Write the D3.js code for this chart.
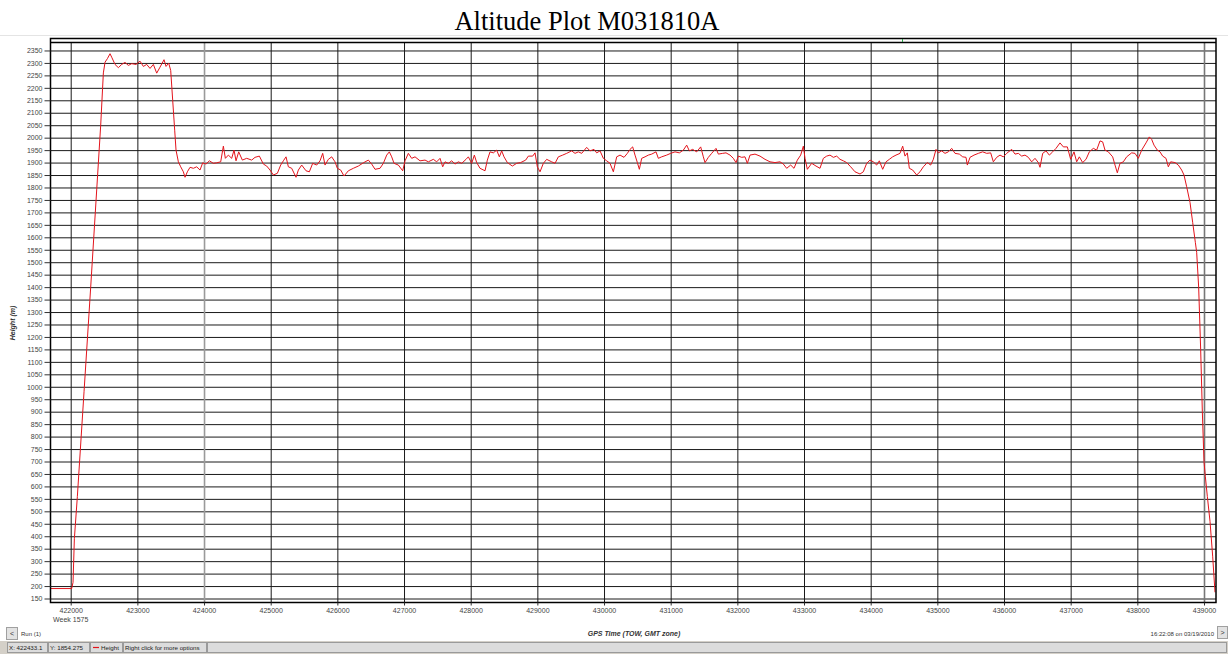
<!DOCTYPE html>
<html>
<head>
<meta charset="utf-8">
<script src="https://cdn.jsdelivr.net/npm/d3@7"></script>
<style>
  html, body { margin: 0; padding: 0; background: #fff; }
  svg { display: block; }
  text { font-family: "Liberation Sans", Arial, sans-serif; }
</style>
</head>
<body>
<svg id="chart" width="1228" height="654"></svg>
<script>
// ---------------- DATA ----------------
const chartTitle = "Altitude Plot M031810A";
const yLabel = "Height (m)";
const xLabel = "GPS Time (TOW, GMT zone)";
const weekLabel = "Week 1575";
const runLabel = "Run (1)";
const stampLabel = "16:22:08 on 03/19/2010";
const statusX = "X: 422433.1";
const statusY = "Y: 1854.275";
const seriesName = "Height";
const statusHint = "Right click for more options";

const xTicks = [422000, 423000, 424000, 425000, 426000, 427000, 428000, 429000, 430000,
  431000, 432000, 433000, 434000, 435000, 436000, 437000, 438000, 439000];
const yTicks = d3.range(150, 2351, 50);

// GPS time of week (s)
const gpsTime = [
  421697, 422015, 422035, 422055, 422100, 422200, 422300, 422390, 422450, 422490,
  422515, 422550, 422590, 422615, 422665, 422715, 422765, 422815, 422865, 422915,
  422980, 423040, 423090, 423140, 423190, 423240, 423290, 423340, 423400, 423430,
  423470, 423500, 423530, 423560, 423580, 423615, 423650, 423690, 423715, 423750,
  423790, 423840, 423890, 423940, 423980, 424030, 424080, 424140, 424190, 424250,
  424290, 424320, 424365, 424415, 424450, 424480, 424520, 424575, 424640, 424715,
  424765, 424830, 424890, 424940, 424990, 425040, 425100, 425150, 425190, 425230,
  425265, 425315, 425380, 425415, 425465, 425530, 425580, 425630, 425690, 425740,
  425780, 425815, 425865, 425915, 425965, 426000, 426050, 426100, 426165, 426240,
  426315, 426390, 426465, 426515, 426565, 426640, 426690, 426740, 426780, 426815,
  426850, 426915, 426980, 427015, 427065, 427115, 427165, 427240, 427315, 427365,
  427440, 427490,
  427540, 427580, 427615, 427665, 427715, 427765, 427815, 427865, 427930, 427965,
  428015, 428055, 428090, 428140, 428215, 428250, 428290, 428340, 428390, 428430,
  428465, 428500, 428550, 428625, 428690, 428750, 428825, 428865, 428930, 428965,
  429000, 429040, 429090, 429140, 429215, 429265, 429315, 429380, 429440, 429515,
  429565, 429615, 429665, 429740, 429790, 429850, 429890, 429940, 429990, 430040,
  430090, 430140, 430190, 430240, 430300, 430350, 430390, 430430, 430465, 430500,
  430530, 430565, 430615, 430665, 430715, 430780, 430815, 430865, 430940, 431000,
  431065, 431130, 431190, 431240, 431280, 431330, 431390, 431450, 431490, 431515,
  431565, 431615, 431680, 431715, 431780, 431830, 431890, 431940, 431980, 432015,
  432065, 432115, 432150, 432190, 432265, 432340, 432415, 432490, 432565, 432640,
  432690, 432740, 432800, 432850, 432900, 432950, 432990, 433015, 433050, 433115,
  433180, 433240, 433290, 433340,
  433390, 433440, 433490, 433540, 433590, 433640, 433700, 433765, 433840, 433890,
  433940, 433990, 434040, 434090, 434130, 434180, 434230, 434280, 434330, 434380,
  434440, 434480, 434515, 434550, 434580, 434630, 434690, 434740, 434790, 434850,
  434900, 434940, 434980, 435015, 435065, 435115, 435165, 435215, 435265, 435330,
  435380, 435430, 435450, 435490, 435550, 435615, 435680, 435740, 435800, 435840,
  435890, 435940, 435990, 436040, 436115, 436165, 436215, 436265, 436315, 436365,
  436415, 436465, 436515, 436540, 436580, 436630, 436680, 436730, 436780, 436840,
  436890, 436950, 437000, 437050, 437090, 437130, 437180, 437230, 437280, 437340,
  437390, 437440, 437480, 437515, 437565, 437630, 437665, 437700, 437740, 437790,
  437840, 437915, 437965, 438015, 438065, 438130, 438180, 438215, 438250, 438300,
  438340, 438380, 438430, 438465, 438500, 438565, 438615, 438665, 438700, 438740,
  438790, 438830, 438870, 438890, 438920, 438950, 438975, 439000, 439020, 439050,
  439090, 439130, 439165
];

// Height (m)
const height = [
  190, 190, 215, 390, 560, 980, 1400, 1790, 2050, 2260,
  2303, 2317, 2337, 2323, 2294, 2281, 2294, 2302, 2290, 2297,
  2294, 2307, 2286, 2294, 2278, 2294, 2259, 2283, 2313, 2286,
  2299, 2270, 2150, 2030, 1950, 1903, 1883, 1863, 1841, 1863,
  1881, 1877, 1883, 1870, 1899, 1894, 1907, 1897, 1899, 1903,
  1966, 1917, 1930, 1917, 1950, 1907, 1943, 1910, 1917, 1910,
  1921, 1926, 1894, 1886, 1870, 1850, 1857, 1890, 1907, 1923,
  1883, 1877, 1841, 1870, 1890, 1867, 1863, 1897, 1890, 1907,
  1937, 1890, 1913, 1923, 1903, 1877, 1870, 1846, 1867, 1877,
  1886, 1899, 1910, 1894, 1873, 1877, 1897, 1930, 1943, 1923,
  1897, 1890, 1867, 1907, 1937, 1917, 1923, 1907, 1910, 1903,
  1913, 1903,
  1917, 1883, 1903, 1897, 1907, 1894, 1903, 1897, 1913, 1923,
  1897, 1930, 1900, 1877, 1867, 1910, 1943, 1939, 1950, 1923,
  1947, 1923, 1900, 1886, 1897, 1900, 1910, 1926, 1926, 1939,
  1883, 1863, 1897, 1913, 1903, 1897, 1923, 1930, 1937, 1947,
  1937, 1943, 1937, 1961, 1947, 1953, 1939, 1947, 1917, 1907,
  1897, 1863, 1923, 1930, 1921, 1937, 1953, 1963, 1930, 1900,
  1873, 1917, 1923, 1930, 1934, 1943, 1917, 1923, 1930, 1937,
  1943, 1939, 1950, 1970, 1947, 1953, 1943, 1963, 1923, 1900,
  1921, 1937, 1957, 1934, 1937, 1939, 1930, 1917, 1900, 1926,
  1921, 1923, 1897, 1930, 1934, 1926, 1913, 1903, 1900, 1903,
  1894, 1877, 1890, 1877, 1910, 1930, 1966, 1917, 1873, 1897,
  1886, 1877, 1917, 1926,
  1930, 1921, 1926, 1913, 1907, 1900, 1883, 1863, 1854, 1863,
  1897, 1910, 1903, 1890, 1907, 1873, 1903, 1913, 1923, 1930,
  1937, 1966, 1926, 1939, 1877, 1870, 1850, 1863, 1883, 1900,
  1890, 1913, 1953, 1939, 1947, 1937, 1943, 1957, 1937, 1934,
  1923, 1921, 1890, 1921, 1930, 1937, 1943, 1937, 1939, 1903,
  1921, 1930, 1923, 1937, 1953, 1934, 1937, 1926, 1930, 1921,
  1903, 1917, 1900, 1881, 1937, 1947, 1930, 1943, 1957, 1979,
  1963, 1963, 1913, 1943, 1903, 1923, 1900, 1913, 1943, 1957,
  1950, 1987, 1983, 1950, 1943, 1923, 1890, 1859, 1897, 1903,
  1923, 1939, 1937, 1917, 1950, 1979, 2003, 1993, 1970, 1950,
  1943, 1926, 1917, 1883, 1903, 1900, 1890, 1870, 1850, 1803,
  1740, 1660, 1580, 1540, 1400, 1150, 900, 700, 640, 560,
  460, 320, 175
];

// ---------------- LAYOUT ----------------
const svg = d3.select("#chart");
const W = 1228, H = 654;
const plot = { left: 50.5, right: 1216, top: 42.5, bottom: 602.5 };

const x = d3.scaleLinear().domain([421697, 439180]).range([plot.left, plot.right]);
const y = d3.scaleLinear().domain([134, 2382]).range([plot.bottom, plot.top]);

// faint separator line above plot
svg.append("line").attr("x1", 0).attr("x2", W).attr("y1", 35.5).attr("y2", 35.5)
  .attr("stroke", "#e4e4e4").attr("stroke-width", 1);

// title
svg.append("text").attr("x", 587).attr("y", 30).attr("text-anchor", "middle")
  .style("font-family", "'Liberation Serif', 'Times New Roman', serif")
  .attr("font-size", 26.5).attr("fill", "#000").text(chartTitle);

// plot background
svg.append("rect").attr("x", plot.left).attr("y", 38)
  .attr("width", plot.right - plot.left).attr("height", plot.bottom - 38)
  .attr("fill", "#fff");

// horizontal grid (via axis)
const gridY = svg.append("g").attr("transform", `translate(${plot.left},0)`)
  .call(d3.axisLeft(y).tickValues(yTicks).tickSize(-(plot.right - plot.left)).tickFormat(""));
gridY.select(".domain").remove();
gridY.selectAll(".tick line").attr("stroke", "#1a1a1a").attr("stroke-width", 1);

// vertical grid (via axis)
const gridX = svg.append("g").attr("transform", `translate(0,${plot.bottom})`)
  .call(d3.axisBottom(x).tickValues(xTicks).tickSize(-(plot.bottom - plot.top)).tickFormat(""));
gridX.select(".domain").remove();
gridX.selectAll(".tick line")
  .attr("stroke", d => d === 424000 ? "#9a9a9a" : (d === 439000 ? "#777" : "#1a1a1a"))
  .attr("stroke-width", d => (d === 424000 || d === 439000) ? 1.6 : 1);

// data line
const line = d3.line().x((d, i) => x(gpsTime[i])).y((d, i) => y(height[i]));
svg.append("path").datum(height).attr("d", line)
  .attr("fill", "none").attr("stroke", "#e3141c").attr("stroke-width", 1)
  .attr("stroke-linejoin", "round");

// frame
svg.append("rect").attr("x", plot.left).attr("y", 38.5)
  .attr("width", plot.right - plot.left).attr("height", plot.bottom - 38.5)
  .attr("fill", "none").attr("stroke", "#000").attr("stroke-width", 1.5);
svg.append("line").attr("x1", plot.left).attr("x2", plot.right)
  .attr("y1", plot.top).attr("y2", plot.top).attr("stroke", "#000").attr("stroke-width", 1.5);
// small green marker at top
svg.append("line").attr("x1", 902.5).attr("x2", 902.5).attr("y1", 39).attr("y2", 42)
  .attr("stroke", "#2aa84a").attr("stroke-width", 1);

// Y axis ticks + labels
const axY = svg.append("g").attr("transform", `translate(${plot.left},0)`)
  .call(d3.axisLeft(y).tickValues(yTicks).tickSize(6).tickPadding(2).tickFormat(d3.format("d")));
axY.select(".domain").remove();
axY.selectAll(".tick line").attr("stroke", "#333");
axY.selectAll(".tick text").attr("font-size", 7).attr("fill", "#444")
  .attr("font-family", "Liberation Sans, Arial, sans-serif");

// X axis ticks + labels
const axX = svg.append("g").attr("transform", `translate(0,${plot.bottom})`)
  .call(d3.axisBottom(x).tickValues(xTicks).tickSize(3).tickPadding(3).tickFormat(d3.format("d")));
axX.select(".domain").remove();
axX.selectAll(".tick line").attr("stroke", "#333");
axX.selectAll(".tick text").attr("font-size", 7).attr("fill", "#444")
  .attr("font-family", "Liberation Sans, Arial, sans-serif");

svg.append("text").attr("x", x(422000)).attr("y", 622).attr("text-anchor", "middle")
  .attr("font-size", 7).attr("fill", "#444").text(weekLabel);

// axis titles
svg.append("text").attr("transform", "translate(15,323) rotate(-90)")
  .attr("text-anchor", "middle").attr("font-size", 7).attr("font-weight", "bold")
  .attr("font-style", "italic").attr("fill", "#333").text(yLabel);
svg.append("text").attr("x", 634).attr("y", 636).attr("text-anchor", "middle")
  .attr("font-size", 7).attr("font-weight", "bold").attr("font-style", "italic")
  .attr("fill", "#333").text(xLabel);

// bottom controls
function button(bx, by, bw, bh, label) {
  svg.append("rect").attr("x", bx + 0.5).attr("y", by + 0.5).attr("width", bw).attr("height", bh)
    .attr("fill", "#e2e2e2").attr("stroke", "#a0a0a0");
  svg.append("text").attr("x", bx + bw / 2 + 0.5).attr("y", by + bh / 2 + 2.5)
    .attr("text-anchor", "middle").attr("font-size", 7).attr("fill", "#333").text(label);
}
button(6, 627, 11, 12, "<");
button(1217, 626, 10, 12, ">");
svg.append("text").attr("x", 21).attr("y", 636).attr("font-size", 6).attr("fill", "#333").text(runLabel);
svg.append("text").attr("x", 1214).attr("y", 636).attr("text-anchor", "end")
  .attr("font-size", 6).attr("fill", "#333").text(stampLabel);

// status bar
svg.append("rect").attr("x", 0).attr("y", 641).attr("width", W).attr("height", 13).attr("fill", "#d4d0c8");
const fields = [
  { x: 7, w: 40, t: statusX },
  { x: 48, w: 41, t: statusY },
  { x: 90, w: 32, t: seriesName, swatch: true },
  { x: 123, w: 83, t: statusHint },
  { x: 207, w: 1019, t: "" }
];
fields.forEach(f => {
  svg.append("rect").attr("x", f.x + 0.5).attr("y", 642.5).attr("width", f.w).attr("height", 10)
    .attr("fill", "#dcdcdc").attr("stroke", "#9a9a9a");
  let tx = f.x + 2;
  if (f.swatch) {
    svg.append("line").attr("x1", f.x + 3).attr("x2", f.x + 9).attr("y1", 647.5).attr("y2", 647.5)
      .attr("stroke", "#e3141c").attr("stroke-width", 1.2);
    tx = f.x + 11;
  }
  if (f.t) svg.append("text").attr("x", tx).attr("y", 650.3).attr("font-size", 6.2)
    .attr("fill", "#222").text(f.t);
});
</script>
</body>
</html>
